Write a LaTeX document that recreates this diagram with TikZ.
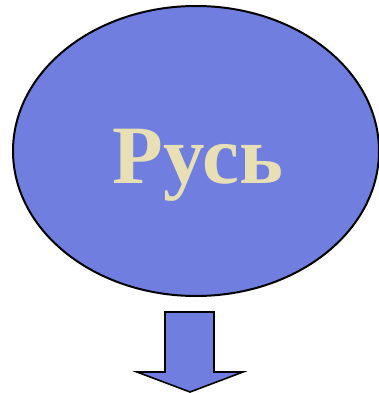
\documentclass[tikz,border=0pt]{standalone}
\usepackage{fontspec}
\setmainfont{Liberation Serif}
\usepackage{tikz}
\usetikzlibrary{arrows.meta,positioning,shapes.geometric}
\definecolor{rusblue}{RGB}{112,126,224}
\definecolor{ruscream}{RGB}{232,224,180}

\begin{document}
\begin{tikzpicture}[x=1pt,y=-1pt]
\useasboundingbox (0,0) rectangle (378,393);
\node[ellipse,draw=black,line width=2pt,fill=rusblue,minimum width=366pt,minimum height=290pt,inner sep=0pt] (rus_ell) at (196,151) {};
\node[anchor=base,inner sep=0pt,text=ruscream,font=\bfseries\fontsize{83}{90}\selectfont] (rus_txt) at (198,183) {Русь};
% block arrow under the ellipse
\coordinate (ar_tip) at (190,392);
\draw[line width=1.6pt,fill=rusblue,line join=miter] (165,312) -- (214,312) -- (214,372) -- (243,372) -- (ar_tip) -- (137,372) -- (165,372) -- cycle;
\end{tikzpicture}
\end{document}
